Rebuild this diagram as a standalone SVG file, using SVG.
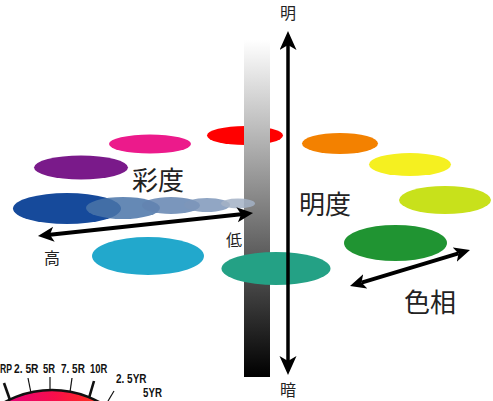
<svg xmlns="http://www.w3.org/2000/svg" width="493" height="401" viewBox="0 0 493 401">
<defs>
<linearGradient id="barGrad" x1="0" y1="40" x2="0" y2="377" gradientUnits="userSpaceOnUse">
<stop offset="0" stop-color="#ffffff"/>
<stop offset="1" stop-color="#000000"/>
</linearGradient>
<linearGradient id="wheelGrad" x1="0" y1="0" x2="110" y2="0" gradientUnits="userSpaceOnUse">
<stop offset="0" stop-color="#e4007f"/>
<stop offset="0.5" stop-color="#f70f4a"/>
<stop offset="1" stop-color="#ff3a10"/>
</linearGradient>
<marker id="headV" markerUnits="userSpaceOnUse" markerWidth="20" markerHeight="18" refX="5" refY="8.5" orient="auto-start-reverse">
<path d="M0,0 L19,8.5 L0,17 L5,8.5 z" fill="#000"/>
</marker>
<marker id="headS" markerUnits="userSpaceOnUse" markerWidth="17" markerHeight="16" refX="4" refY="7.5" orient="auto-start-reverse">
<path d="M0,0 L16,7.5 L0,15 L4,7.5 z" fill="#000"/>
</marker>
</defs>
<style>
.jp{font-family:"Noto Sans CJK JP","Noto Sans CJK SC",sans-serif;fill:#222;}
.big{font-size:26px;}
.small{font-size:16px;}
.wl{font-family:"Liberation Sans",Arial,sans-serif;font-weight:bold;font-size:13.5px;fill:#111;}
.tick{stroke:#111;stroke-width:1.2;}
.tickb{stroke:#111;stroke-width:2.6;}
.arr{fill:none;stroke:#000;}
</style>
<rect width="493" height="401" fill="#ffffff"/>

<g id="hue-wheel">
<circle cx="52" cy="488" r="98" fill="url(#wheelGrad)" stroke="#111" stroke-width="2.5"/>
<line class="tickb" x1="4" y1="383" x2="10" y2="400"/>
<line class="tick" x1="28" y1="378" x2="31" y2="393"/>
<line class="tick" x1="50" y1="377" x2="50" y2="390"/>
<line class="tick" x1="72" y1="378" x2="70" y2="392"/>
<line class="tickb" x1="94" y1="381" x2="89" y2="398"/>
<line class="tick" x1="114" y1="391" x2="108" y2="401"/>
<text class="wl" transform="translate(0,373) scale(0.64,1)">RP</text>
<text class="wl" transform="translate(14,373) scale(0.76,1)">2. 5R</text>
<text class="wl" transform="translate(43,373) scale(0.7,1)">5R</text>
<text class="wl" transform="translate(61,373) scale(0.74,1)">7. 5R</text>
<text class="wl" transform="translate(90,373) scale(0.7,1)">10R</text>
<text class="wl" transform="translate(116,383) scale(0.74,1)">2. 5YR</text>
<text class="wl" transform="translate(143,397) scale(0.72,1)">5YR</text>
</g>

<g id="ellipse-pink"><ellipse cx="150" cy="144" rx="41" ry="9.5" fill="#ec1a8b"/></g>
<g id="ellipse-purple"><ellipse cx="81" cy="167.5" rx="47" ry="12" fill="#7a1a8a"/></g>
<g id="ellipse-red"><ellipse cx="245" cy="135.5" rx="38" ry="9.5" fill="#ff0000"/></g>
<g id="ellipse-orange"><ellipse cx="340" cy="143.5" rx="38" ry="10.5" fill="#f38100"/></g>
<g id="ellipse-yellow"><ellipse cx="410" cy="164.5" rx="41" ry="11.5" fill="#f5f020"/></g>
<g id="ellipse-yellowgreen"><ellipse cx="445" cy="200" rx="46" ry="14" fill="#c8e11b"/></g>

<g id="value-bar"><rect x="244" y="40" width="26" height="337" fill="url(#barGrad)"/></g>

<g id="ellipse-blue"><ellipse cx="67" cy="208.5" rx="54" ry="15.5" fill="#164a9b"/></g>
<g id="chroma-steps">
<ellipse cx="123" cy="208" rx="37" ry="11" fill="#4a74a8" fill-opacity="0.85"/>
<ellipse cx="171" cy="205.5" rx="29" ry="8.5" fill="#6384b0" fill-opacity="0.85"/>
<ellipse cx="207" cy="205" rx="23" ry="7" fill="#7e97ba" fill-opacity="0.85"/>
<ellipse cx="238" cy="203.5" rx="17" ry="5" fill="#a3b1c5" fill-opacity="0.85"/>
</g>
<g id="ellipse-cyan"><ellipse cx="148" cy="256" rx="56" ry="19" fill="#22a8cc"/></g>
<g id="ellipse-teal"><ellipse cx="276" cy="268.5" rx="54.5" ry="16.5" fill="#24a185"/></g>
<g id="ellipse-green"><ellipse cx="395.5" cy="243" rx="51.5" ry="18" fill="#209432"/></g>

<g id="connectors">
<line class="arr" x1="49.9" y1="234.7" x2="241.1" y2="214.3" stroke-width="4" marker-start="url(#headS)" marker-end="url(#headS)"/>
<line class="arr" x1="288" y1="45" x2="288" y2="361" stroke-width="3.5" marker-start="url(#headV)" marker-end="url(#headV)"/>
<line class="arr" x1="361.5" y1="282.6" x2="458.5" y2="253.4" stroke-width="4" marker-start="url(#headS)" marker-end="url(#headS)"/>
</g>

<g id="labels">
<text class="jp small" x="280" y="19">明</text>
<text class="jp small" x="280" y="396">暗</text>
<text class="jp small" x="44" y="264">高</text>
<text class="jp small" x="226" y="246">低</text>
<text class="jp big" x="132" y="189.5">彩度</text>
<text class="jp big" x="299" y="213.5">明度</text>
<text class="jp big" x="404" y="311.5">色相</text>
</g>
</svg>
